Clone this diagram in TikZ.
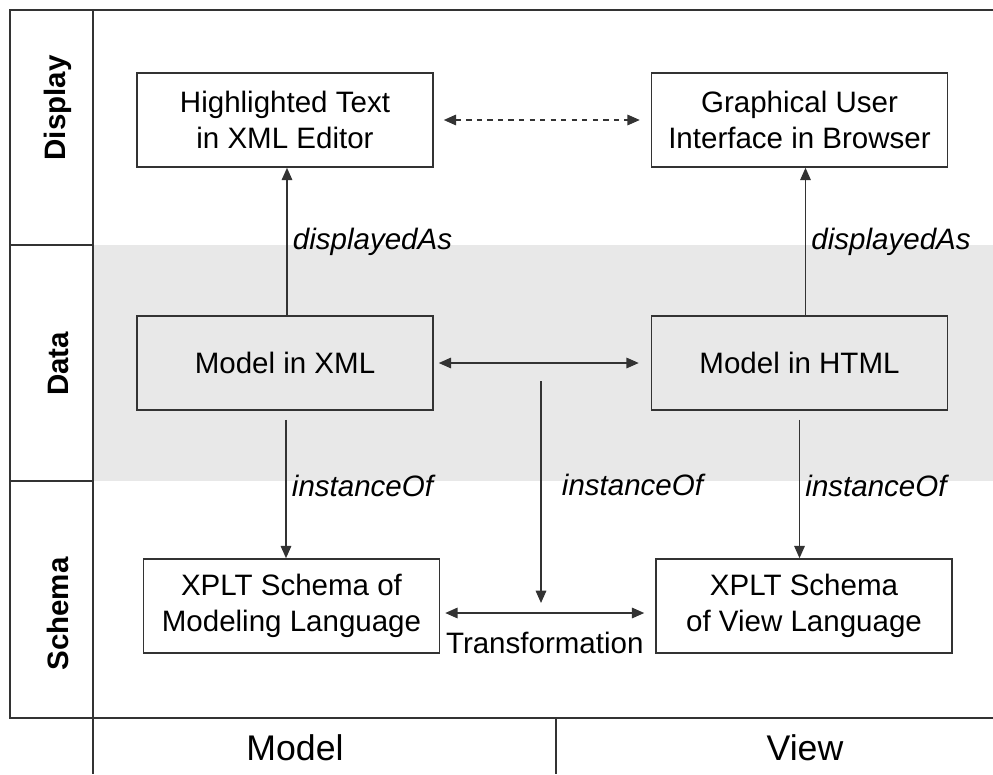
\documentclass[tikz,border=0pt]{standalone}
\usepackage{fontspec}
\setmainfont{Liberation Sans}
\usetikzlibrary{arrows.meta}

\definecolor{bandgray}{HTML}{E8E8E8}
\definecolor{linegray}{HTML}{333333}

\tikzstyle{box} = [draw=linegray,line width=0.9pt,rectangle,align=center,minimum width=5.92cm,minimum height=1.88cm,font=\fontsize{16.8}{20.5}\selectfont]
\tikzstyle{line} = [draw=linegray,line width=0.8pt,-{Triangle[length=7pt,width=6pt]}]
\tikzstyle{both} = [line,{Triangle[length=7pt,width=6pt]}-{Triangle[length=7pt,width=6pt]}]
\tikzstyle{frame} = [draw=linegray,line width=0.9pt]
\tikzstyle{rel} = [font=\fontsize{16.8}{20.5}\selectfont\itshape,inner sep=3pt]
\tikzstyle{rowlab} = [rotate=90,font=\fontsize{16.8}{20.5}\selectfont\bfseries]
\tikzstyle{collab} = [font=\fontsize{20.3}{24}\selectfont]

\begin{document}
\begin{tikzpicture}[x=0.02cm,y=-0.02cm]
\useasboundingbox (0,0) rectangle (993,774);
% data band and table lines
\fill[bandgray] (93,245) rectangle (993,481);
\draw[frame] (993,10) -- (10,10) -- (10,718) -- (993,718);
\draw[frame] (93,10) -- (93,774);
\draw[frame] (10,245) -- (93,245);
\draw[frame] (10,481) -- (93,481);
\draw[frame] (556,718) -- (556,774);
\node[rowlab] (display) at (58,108) {Display};
\node[rowlab] (data) at (58,364) {Data};
\node[rowlab] (schema) at (58,614) {Schema};
\node[collab] (model) at (295,748) {Model};
\node[collab] (view) at (805,748) {View};
% boxes
\node[box] (ht) at (285,120) {Highlighted Text\\in XML Editor};
\node[box] (gui) at (799.5,120) {Graphical User\\Interface in Browser};
\node[box] (mxml) at (285,363) {Model in XML};
\node[box] (mhtml) at (799.5,363) {Model in HTML};
\node[box] (sml) at (291.5,606) {XPLT Schema of\\Modeling Language};
\node[box] (svl) at (804,606) {XPLT Schema\\of View Language};
\coordinate (tsrc) at (541,381);
\coordinate (tdst) at (541,603);
% connectors
\draw[both,dashed] ([xshift=0.2cm]ht.east) -- ([xshift=-0.22cm]gui.west);
\draw[both] ([xshift=0.1cm]mxml.east) -- ([xshift=-0.24cm]mhtml.west);
\draw[line] ([xshift=0.04cm]mxml.north) -- node[rel,right] {displayedAs} ([xshift=0.04cm]ht.south);
\draw[line] ([xshift=0.12cm]mhtml.north) -- node[rel,right] {displayedAs} ([xshift=0.12cm]gui.south);
\draw[line] ([xshift=0.02cm,yshift=-0.18cm]mxml.south) -- node[rel,right,pos=0.48] {instanceOf} ([xshift=0.02cm]mxml.south |- sml.north);
\draw[line] ([yshift=-0.18cm]mhtml.south) -- node[rel,right,pos=0.48] {instanceOf} (mhtml.south |- svl.north);
\draw[line] (tsrc) -- node[rel,right,pos=0.47,xshift=0.3cm] {instanceOf} (tdst);
\draw[both] ([shift={(5,7)}]sml.east) -- node[below,font=\fontsize{16.8}{20.5}\selectfont,yshift=-0.26cm] {Transformation} ([shift={(-11,7)}]svl.west);
\end{tikzpicture}
\end{document}
